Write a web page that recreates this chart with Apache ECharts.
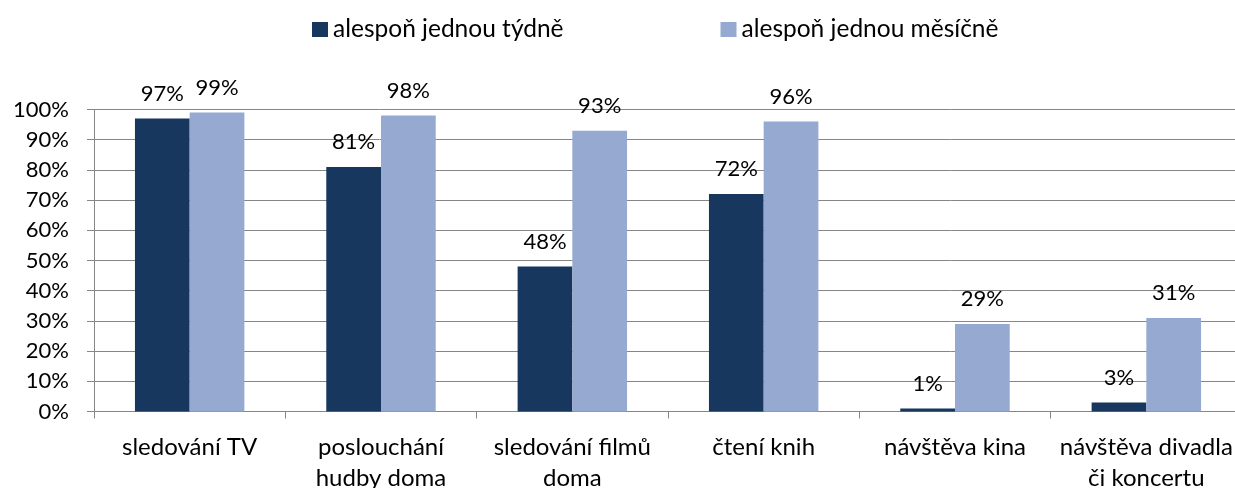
<!DOCTYPE html>
<html>
<head>
<meta charset="utf-8">
<script src="https://cdn.jsdelivr.net/npm/echarts@6/dist/echarts.min.js"></script>
<style>
html,body{margin:0;padding:0;background:#fff;}
#c{width:1235px;height:488px;}
</style>
</head>
<body>
<div id="c"></div>
<script>
const categories = ['sledování TV', 'poslouchání\nhudby doma', 'sledování filmů\ndoma', 'čtení knih', 'návštěva kina', 'návštěva divadla\nči koncertu'];
const seriesNames = ['alespoň jednou týdně', 'alespoň jednou měsíčně'];
const weekly = [97, 81, 48, 72, 1, 3];
const monthly = [99, 98, 93, 96, 29, 31];
const yTicks = [0, 10, 20, 30, 40, 50, 60, 70, 80, 90, 100];

const FONT = 'Lato';
const chart = echarts.init(document.getElementById('c'), null, {renderer: 'canvas'});
const labelCfg = {
  show: true, position: 'top', distance: 14,
  formatter: p => p.value + '%',
  color: '#000', fontFamily: FONT, fontSize: 22
};
chart.setOption({
  animation: false,
  textStyle: {fontFamily: FONT},
  legend: {
    left: 307, top: 12,
    itemWidth: 16, itemHeight: 15, itemGap: 157,
    icon: 'rect',
    textStyle: {fontFamily: FONT, fontSize: 24.5, color: '#000'},
    data: seriesNames
  },
  grid: {left: 94, right: -7, top: 109.5, bottom: 76.5, containLabel: false, outerBoundsMode: 'none'},
  xAxis: {
    type: 'category',
    data: categories,
    axisLine: {lineStyle: {color: '#868686', width: 1}},
    axisTick: {show: true, length: 7, lineStyle: {color: '#868686'}},
    axisLabel: {color: '#000', fontFamily: FONT, fontSize: 24, margin: 20, lineHeight: 31, interval: 0}
  },
  yAxis: {
    type: 'value', min: 0, max: 100, interval: 10,
    axisLine: {show: true, lineStyle: {color: '#868686', width: 1}},
    axisTick: {show: true, length: 7, lineStyle: {color: '#868686'}},
    splitLine: {lineStyle: {color: '#868686', width: 1}},
    axisLabel: {
      color: '#000', fontFamily: FONT, fontSize: 22, margin: 25,
      formatter: v => yTicks.includes(v) ? v + '%' : ''
    }
  },
  series: [
    {name: seriesNames[0], type: 'bar', data: weekly, barWidth: '28.6%', barGap: '0%',
     itemStyle: {color: '#17375E'}, label: labelCfg},
    {name: seriesNames[1], type: 'bar', data: monthly, barWidth: '28.6%',
     itemStyle: {color: '#95A9D1'}, label: labelCfg}
  ]
});
</script>
</body>
</html>
